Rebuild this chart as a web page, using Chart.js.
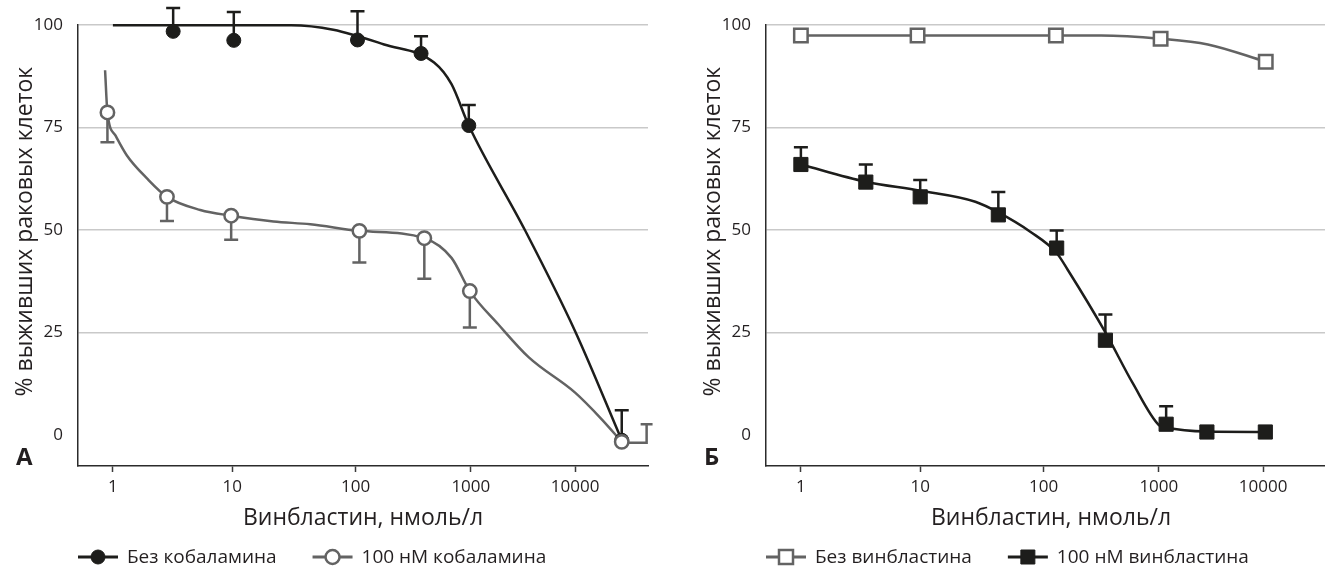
<!DOCTYPE html>
<html lang="ru">
<head>
<meta charset="utf-8">
<title>Выживаемость раковых клеток при действии винбластина</title>
<script src="https://cdn.jsdelivr.net/npm/chart.js@4.4.1/dist/chart.umd.min.js"></script>
<style>
  html, body { margin: 0; padding: 0; background: #ffffff; width: 1325px; height: 566px; overflow: hidden; }
  .panel { position: absolute; top: 0; width: 662px; height: 566px; }
  #panelA { left: 0; }
  #panelB { left: 688px; }
</style>
</head>
<body>
<div class="panel" id="panelA"><canvas id="chartA"></canvas></div>
<div class="panel" id="panelB"><canvas id="chartB"></canvas></div>
<script>
// ---- axes ----
const X_TICKS = [1, 10, 100, 1000, 10000];
const X_TICK_LABELS = ['1', '10', '100', '1000', '10000'];
const Y_TICKS = [0, 25, 50, 75, 100];
const X_TITLE = 'Винбластин, нмоль/л';
const Y_TITLE = '% выживших раковых клеток';

// ---- panel А: cobalamin ----
const concNoCbl = [3.2, 10.3, 104, 370, 960, 28000];
const survNoCbl = [98.5, 96.3, 96.4, 93.1, 75.5, -1.3];
const semNoCbl  = [5.7, 6.9, 7.0, 4.2, 5.0, 7.3];

const concCbl = [0.9, 2.84, 9.8, 108, 395, 980, 28000];
const survCbl = [78.7, 58.1, 53.5, 49.8, 48.0, 35.1, -1.7];
const semCbl  = [7.3, 5.9, 5.9, 7.7, 9.9, 8.9, null];

// displaced whisker of the last 100 нМ point
const whiskerCblX = [28000, 48500, 48500, 42500, 55300];
const whiskerCblY = [-1.9, -1.9, 2.6, 2.6, 2.6];

// fitted curves
const fitNoCblX = [1, 30, 66, 177, 480, 680, 960, 3300, 10000, 28000];
const fitNoCblY = [100, 100, 98.9, 95.3, 90.9, 85.6, 75.5, 50, 25.3, -1.3];
const fitCblX = [0.86, 0.9, 1.05, 1.31, 1.93, 2.84, 5.4, 9.8, 21.6, 43, 108, 395, 680, 980, 1830, 3600, 10000, 18000, 28000];
const fitCblY = [89, 78.7, 73.1, 68.2, 62.6, 58.1, 54.9, 53.5, 52.1, 51.4, 49.8, 48, 43.2, 35.1, 27, 18.9, 10.3, 3.8, -1.7];

// ---- panel Б: vinblastine pretreatment ----
const concNoVbl = [1, 9.5, 128, 1040, 10600];
const survNoVbl = [97.5, 97.5, 97.5, 96.7, 91.1];
const fitNoVblX = [1, 128, 316, 1040, 2950, 10600];
const fitNoVblY = [97.5, 97.5, 97.5, 96.7, 95.3, 91.1];

const concVbl = [1, 3.5, 10, 43, 130, 344, 1175, 2890, 10500];
const survVbl = [66, 61.7, 58.1, 53.7, 45.6, 23.1, 2.6, 0.7, 0.7];
const semVbl  = [4.2, 4.3, 4.1, 5.6, 4.3, 6.3, 4.4, null, null];
const fitVblX = [1, 3.5, 10, 28, 43, 78, 130, 162, 344, 594, 1000, 1175, 2890, 10500];
const fitVblY = [66, 61.8, 59.6, 56.9, 54.3, 49.6, 44.4, 40.3, 25, 12.6, 2.4, 1.8, 0.8, 0.7];

const BLACK = '#1d1d1b';
const GRAY = '#636363';
const TEXT = '#231f20';
const FONT = '"Open Sans", "Noto Sans", sans-serif';

Chart.defaults.font.family = FONT;
Chart.defaults.color = TEXT;

// Log axis whose decades may have unequal lengths (weights in px-like units).
class DecadeScale extends Chart.LinearScale {
  _u(v) {
    const w = this._weights;
    const L = Math.log10(v);
    if (L <= 0) return L * w[0];
    let u = 0, d = 0;
    while (d < w.length - 1 && L > d + 1) { u += w[d]; d++; }
    return u + (L - d) * w[d];
  }
  _uInv(u) {
    const w = this._weights;
    if (u <= 0) return Math.pow(10, u / w[0]);
    let acc = 0, d = 0;
    while (d < w.length - 1 && u > acc + w[d]) { acc += w[d]; d++; }
    return Math.pow(10, d + (u - acc) / w[d]);
  }
  determineDataLimits() {
    this.min = this.options.min;
    this.max = this.options.max;
  }
  buildTicks() {
    return Array.from(this.options.decadeTicks).map(v => ({ value: v }));
  }
  configure() {
    super.configure();
    this._weights = Array.from(this.options.decadeWeights);
    this._u0 = this._u(this.min);
    this._u1 = this._u(this.max);
  }
  getPixelForValue(v) {
    return this.getPixelForDecimal((this._u(v) - this._u0) / (this._u1 - this._u0));
  }
  getValueForPixel(p) {
    return this._uInv(this._u0 + this.getDecimalForPixel(p) * (this._u1 - this._u0));
  }
}
DecadeScale.id = 'decade';
DecadeScale.defaults = {};

// Vertical error bars with a cap, drawn beneath the markers.
const errorBars = {
  id: 'errorBars',
  beforeDatasetDraw(chart, args) {
    const ds = chart.data.datasets[args.index];
    if (!ds.errors) return;
    const ctx = chart.ctx;
    const ys = chart.scales.y;
    ctx.save();
    ctx.strokeStyle = ds.borderColor;
    ctx.lineWidth = 2.5;
    ctx.lineCap = 'butt';
    args.meta.data.forEach((pt, i) => {
      const e = ds.errors[i];
      if (e == null) return;
      const end = ys.getPixelForValue(ds.data[i].y + ds.errDir * e);
      ctx.beginPath();
      ctx.moveTo(pt.x, pt.y);
      ctx.lineTo(pt.x, end);
      ctx.moveTo(pt.x - 7, end);
      ctx.lineTo(pt.x + 7, end);
      ctx.stroke();
    });
    ctx.restore();
  }
};

// Series key below the axis title: line with marker, then the label.
const seriesKey = {
  id: 'seriesKey',
  afterDraw(chart, args, opts) {
    const ctx = chart.ctx;
    const y = chart.height - opts.bottom;
    let x = chart.chartArea.left;
    const items = chart.data.datasets.filter(d => d.keyOrder).sort((a, b) => a.keyOrder - b.keyOrder);
    ctx.save();
    ctx.font = `${opts.size}px ${FONT}`;
    ctx.textBaseline = 'middle';
    ctx.textAlign = 'left';
    items.forEach(d => {
      ctx.strokeStyle = d.borderColor;
      ctx.lineWidth = 3;
      ctx.beginPath();
      ctx.moveTo(x, y);
      ctx.lineTo(x + 40, y);
      ctx.stroke();
      ctx.fillStyle = d.backgroundColor;
      ctx.lineWidth = d.borderWidth;
      ctx.beginPath();
      if (d.pointStyle === 'rect') {
        ctx.rect(x + 20 - 7, y - 7, 14, 14);
      } else {
        ctx.arc(x + 20, y, 7, 0, Math.PI * 2);
      }
      ctx.fill();
      ctx.stroke();
      ctx.fillStyle = TEXT;
      ctx.fillText(d.label, x + 49, y + 1);
      x += 49 + ctx.measureText(d.label).width + 36;
    });
    ctx.restore();
  }
};

// Rotated value-axis title and the bold panel letter.
const panelTag = {
  id: 'panelTag',
  afterDraw(chart, args, opts) {
    const ctx = chart.ctx;
    const area = chart.chartArea;
    ctx.save();
    ctx.fillStyle = TEXT;
    ctx.font = `${opts.titleSize}px ${FONT}`;
    ctx.textAlign = 'center';
    ctx.textBaseline = 'middle';
    ctx.translate(area.left - 53, (area.top + area.bottom) / 2 - 14);
    ctx.rotate(-Math.PI / 2);
    ctx.fillText(opts.title, 0, 0);
    ctx.restore();

    ctx.save();
    ctx.font = `bold 24px ${FONT}`;
    ctx.fillStyle = TEXT;
    ctx.textBaseline = 'alphabetic';
    ctx.textAlign = 'left';
    ctx.fillText(opts.text, area.left - 62, area.bottom - 1);
    ctx.restore();
  }
};

Chart.register(DecadeScale, errorBars, seriesKey, panelTag);

const pts = (xs, ys) => xs.map((x, i) => ({ x, y: ys[i] }));

function curve(xs, ys, color, mode) {
  return {
    data: pts(xs, ys), showLine: true, pointRadius: 0, borderColor: color,
    borderWidth: 2.5, cubicInterpolationMode: mode || 'monotone', tension: 0, clip: false
  };
}

function makePanel(canvasId, datasets, tag) {
  return new Chart(document.getElementById(canvasId), {
    type: 'scatter',
    data: { datasets },
    options: {
      responsive: true,
      maintainAspectRatio: false,
      devicePixelRatio: 1,
      animation: false,
      events: [],
      layout: { padding: { top: 22, right: 14, bottom: 34, left: 0 } },
      plugins: {
        legend: { display: false },
        tooltip: { enabled: false },
        seriesKey: { size: 19, bottom: 9 },
        panelTag: { text: tag, title: Y_TITLE, titleSize: 23 }
      },
      scales: {
        x: {
          type: 'decade',
          min: 0.51,
          max: 50000,
          decadeWeights: [119, 123, 115, 104],
          decadeTicks: X_TICKS,
          ticks: {
            callback: (v, i) => X_TICK_LABELS[i],
            font: { size: 17 }, color: TEXT, padding: 5,
            maxRotation: 0, autoSkip: false
          },
          grid: { drawOnChartArea: false, tickLength: 6, tickColor: '#3a3a3a', tickWidth: 1.5 },
          border: { color: '#2b2b2b', width: 1.5 },
          title: { display: true, text: X_TITLE, font: { size: 23 }, color: TEXT, padding: { top: 0, bottom: 0 } },
          afterFit: s => { s.height = 66; }
        },
        y: {
          min: -7.6,
          max: 100,
          afterBuildTicks: s => { s.ticks = Y_TICKS.map(v => ({ value: v })); },
          ticks: { font: { size: 17 }, color: TEXT, padding: 15 },
          grid: {
            drawTicks: false,
            lineWidth: 1.5,
            color: c => (c.tick && c.tick.value === 0) ? 'rgba(0,0,0,0)' : '#c9c9c9'
          },
          border: { color: '#2b2b2b', width: 1.5 },
          title: { display: false },
          afterFit: s => { s.width = 78; }
        }
      }
    }
  });
}

makePanel('chartA', [
  {
    label: '100 нМ кобаламина', keyOrder: 2,
    data: pts(concCbl, survCbl), errors: semCbl, errDir: -1,
    pointStyle: 'circle', pointRadius: 6.7, backgroundColor: '#ffffff',
    borderColor: GRAY, borderWidth: 2.5, showLine: false, clip: false
  },
  {
    label: 'Без кобаламина', keyOrder: 1,
    data: pts(concNoCbl, survNoCbl), errors: semNoCbl, errDir: 1,
    pointStyle: 'circle', pointRadius: 7, backgroundColor: BLACK,
    borderColor: BLACK, borderWidth: 1, showLine: false, clip: false
  },
  curve(whiskerCblX, whiskerCblY, GRAY, 'default'),
  curve(fitNoCblX, fitNoCblY, BLACK),
  curve(fitCblX, fitCblY, GRAY)
], 'А');

makePanel('chartB', [
  {
    label: 'Без винбластина', keyOrder: 1,
    data: pts(concNoVbl, survNoVbl),
    pointStyle: 'rect', pointRadius: 9.5, backgroundColor: '#ffffff',
    borderColor: GRAY, borderWidth: 2.5, showLine: false, clip: false
  },
  {
    label: '100 нМ винбластина', keyOrder: 2,
    data: pts(concVbl, survVbl), errors: semVbl, errDir: 1,
    pointStyle: 'rect', pointRadius: 10, backgroundColor: BLACK,
    borderColor: BLACK, borderWidth: 1, showLine: false, clip: false
  },
  curve(fitNoVblX, fitNoVblY, GRAY),
  curve(fitVblX, fitVblY, BLACK)
], 'Б');
</script>
</body>
</html>
